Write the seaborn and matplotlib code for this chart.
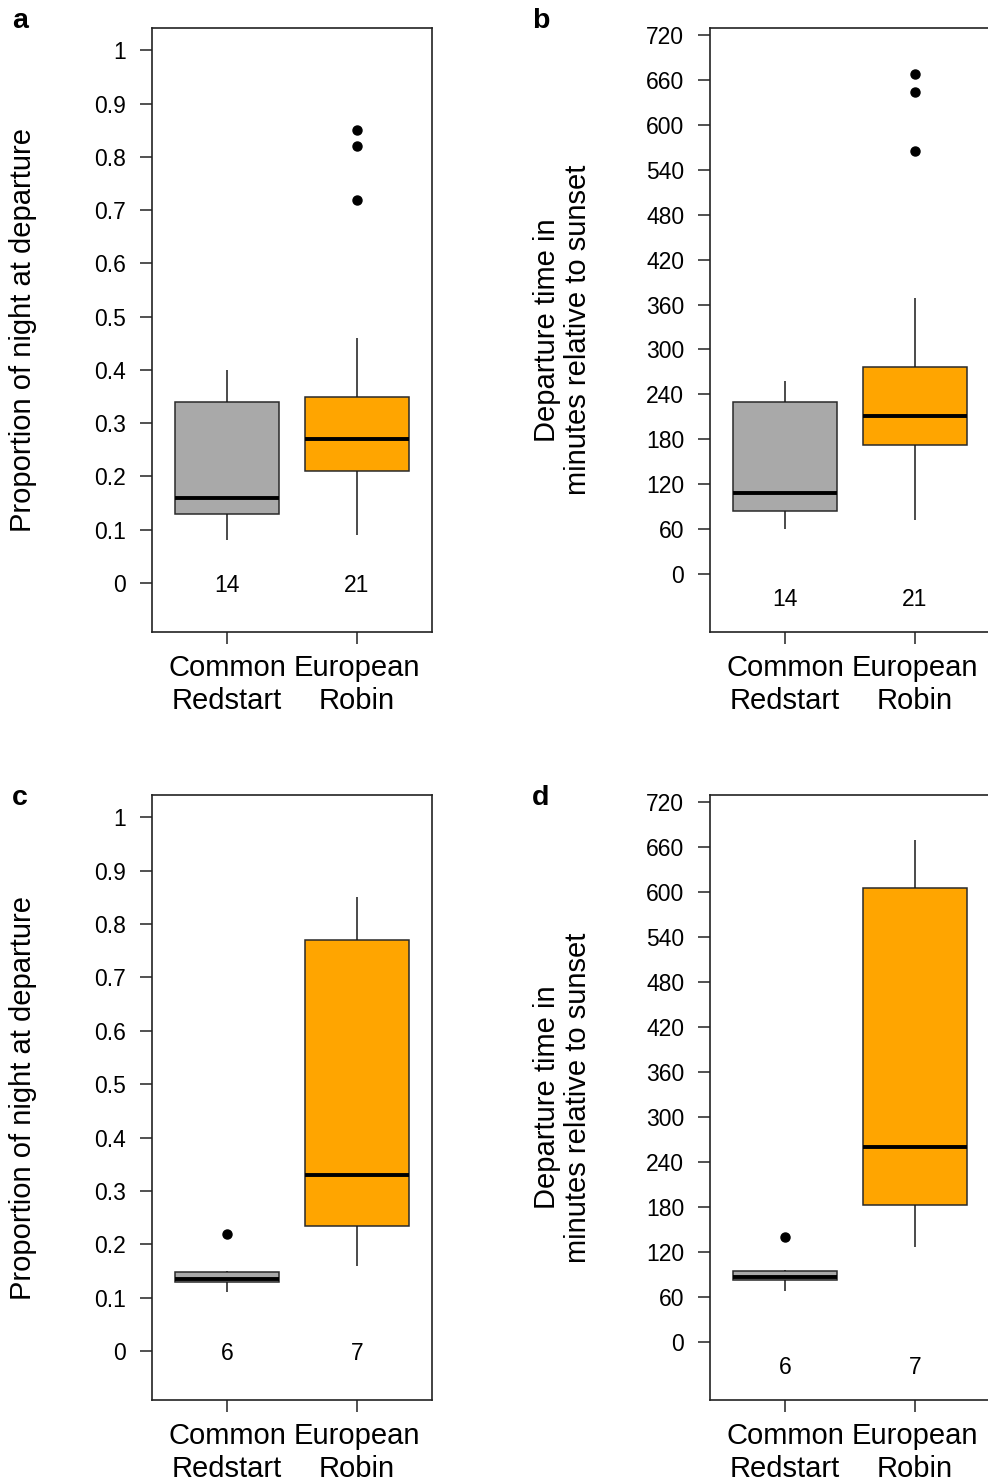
import matplotlib
matplotlib.use("Agg")
import matplotlib.pyplot as plt
import numpy as np
import pandas as pd
import seaborn as sns

# ---------------- data ----------------
species = ["Common Redstart", "European Robin"]
species_ticklabels = ["Common\nRedstart", "European\nRobin"]
colors = ["#A9A9A9", "#FFA500"]

# Panel a: proportion of night at departure (all birds)
prop_all_redstart = [0.08, 0.10, 0.12, 0.13, 0.13, 0.14, 0.15, 0.17, 0.22, 0.34, 0.34, 0.36, 0.38, 0.40]
prop_all_robin = [0.09, 0.14, 0.17, 0.19, 0.20, 0.21, 0.22, 0.24, 0.25, 0.26, 0.27,
                  0.28, 0.30, 0.32, 0.34, 0.35, 0.38, 0.46, 0.72, 0.82, 0.85]
# Panel b: departure time, minutes relative to sunset (all birds)
min_all_redstart = [60, 70, 78, 84, 84, 95, 104, 112, 150, 230, 230, 240, 250, 258]
min_all_robin = [72, 110, 140, 155, 165, 172, 180, 190, 198, 205, 211,
                 220, 235, 250, 265, 276, 300, 369, 566, 644, 669]
# Panel c: proportion of night at departure (subset)
prop_sub_redstart = [0.11, 0.13, 0.13, 0.14, 0.15, 0.22]
prop_sub_robin = [0.16, 0.22, 0.25, 0.33, 0.72, 0.82, 0.85]
# Panel d: departure time, minutes relative to sunset (subset)
min_sub_redstart = [68, 82, 84, 88, 96, 140]
min_sub_robin = [126, 170, 194, 260, 566, 646, 670]

prop_ticks = [0, 0.1, 0.2, 0.3, 0.4, 0.5, 0.6, 0.7, 0.8, 0.9, 1]
min_ticks = [0, 60, 120, 180, 240, 300, 360, 420, 480, 540, 600, 660, 720]

prop_label = "Proportion of night at departure"
min_label = "Departure time in\nminutes relative to sunset"

# ---------------- style ----------------
sns.set_style("ticks")
plt.rcParams["font.family"] = ["Liberation Sans", "DejaVu Sans"]
plt.rcParams["text.color"] = "black"
plt.rcParams["axes.labelcolor"] = "black"
plt.rcParams["xtick.color"] = "black"
plt.rcParams["ytick.color"] = "black"
plt.rcParams["xtick.labelcolor"] = "black"
plt.rcParams["ytick.labelcolor"] = "black"

W, H = 988, 1483
fig = plt.figure(figsize=(W / 100, H / 100), dpi=100)

def axes_px(left, top, right, bottom):
    return fig.add_axes([left / W, 1 - bottom / H, (right - left) / W, (bottom - top) / H])

palette = dict(zip(species, colors))


def panel(ax, red, rob, yticks, ylim, ylabel, n_y, label_x):
    df = pd.DataFrame({
        "species": [species[0]] * len(red) + [species[1]] * len(rob),
        "value": list(red) + list(rob),
    })
    sns.boxplot(
        data=df, x="species", y="value", hue="species",
        order=species, hue_order=species, palette=palette,
        width=0.8, whis=1.5, saturation=1, dodge=False, legend=False,
        linewidth=1.1, linecolor="#2a2a2a", showcaps=False,
        medianprops=dict(color="black", linewidth=2.8),
        whiskerprops=dict(color="#1a1a1a", linewidth=1.1),
        flierprops=dict(marker="o", markerfacecolor="black",
                        markeredgecolor="black", markersize=6.5),
        ax=ax,
    )
    ax.set_xlim(-0.58, 1.58)
    ax.set_ylim(*ylim)
    ax.set_yticks(yticks)
    ax.set_yticklabels([f"{v:g}" for v in yticks])
    ax.set_xticks([0, 1])
    ax.set_xticklabels(species_ticklabels, linespacing=1.25)
    ax.set_xlabel("")
    ax.set_ylabel(ylabel, fontsize=21, linespacing=1.15, color="black")
    ax.yaxis.set_label_coords(label_x, 0.5)
    for s in ax.spines.values():
        s.set_visible(True)
        s.set_color("#222222")
        s.set_linewidth(1.2)
    ax.tick_params(axis="y", direction="out", length=8.5, width=1.1,
                   color="#222222", labelcolor="black", labelsize=16.5, pad=10)
    ax.tick_params(axis="x", direction="out", length=8.5, width=1.1,
                   color="#222222", labelcolor="black", labelsize=21, pad=7)
    for i, d in enumerate([red, rob]):
        ax.text(i, n_y, str(len(d)), ha="center", va="center_baseline",
                fontsize=16.5, color="black")


ax_a = axes_px(152, 28, 432, 632)
ax_b = axes_px(710, 28, 990, 632)
ax_c = axes_px(152, 795, 432, 1400)
ax_d = axes_px(710, 795, 990, 1400)

panel(ax_a, prop_all_redstart, prop_all_robin, prop_ticks, (-0.092, 1.042), prop_label, 0, -0.41)
panel(ax_b, min_all_redstart, min_all_robin, min_ticks, (-78, 730), min_label, -31, -0.42)
panel(ax_c, prop_sub_redstart, prop_sub_robin, prop_ticks, (-0.092, 1.042), prop_label, 0, -0.41)
panel(ax_d, min_sub_redstart, min_sub_robin, min_ticks, (-78, 730), min_label, -31, -0.42)

for letter, (px, py) in zip("abcd", [(20, 21), (541, 21), (20, 798), (541, 798)]):
    fig.text(px / W, 1 - py / H, letter, fontsize=20.5, fontweight="bold",
             ha="center", va="center", color="black")

fig.savefig("out.png", dpi=100)
